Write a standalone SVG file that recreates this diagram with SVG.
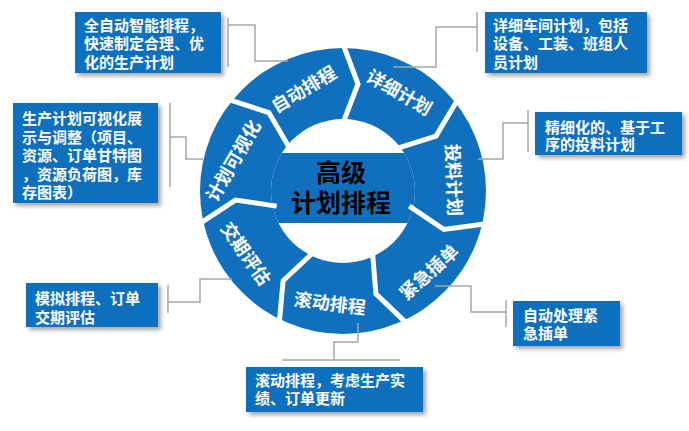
<svg xmlns="http://www.w3.org/2000/svg" width="689" height="431" viewBox="0 0 689 431">
<defs>
<style>
.box{fill:#1170BE;filter:url(#sh)}
.bt{font-family:"Noto Sans CJK SC","Noto Sans",sans-serif;font-weight:bold;font-size:15px;fill:#fff}
.seg{font-family:"Noto Sans CJK SC","Noto Sans",sans-serif;font-weight:bold;font-size:18px;fill:#fff;text-anchor:middle;dominant-baseline:central}
.ctr{font-family:"Noto Sans CJK SC","Noto Sans",sans-serif;font-weight:bold;font-size:25px;fill:#000;text-anchor:middle}
.sep{fill:none;stroke:#fff;stroke-width:5;stroke-linejoin:miter}
.con{fill:none;stroke:#A6A6A6;stroke-width:1.5}
</style>
<filter id="sh" x="-10%" y="-10%" width="130%" height="140%">
<feDropShadow dx="3" dy="3" stdDeviation="2" flood-color="#000" flood-opacity="0.35"/>
</filter>
<clipPath id="inner"><circle cx="343" cy="191" r="72"/></clipPath>
</defs>
<rect width="689" height="431" fill="#fff"/>
<g id="wheel">
<circle cx="343" cy="191" r="143" fill="#1170BE"/>
<circle cx="343" cy="191" r="72" fill="#fff"/>
<rect x="260" y="153" width="170" height="70" fill="#1170BE" clip-path="url(#inner)"/>
<polyline class="sep" points="343,44 358,84 343,123"/>
<polyline class="sep" points="457.9,99.3 436,136.1 396.2,148.6"/>
<polyline class="sep" points="486.3,223.7 443.9,229.5 409.3,206.1"/>
<polyline class="sep" points="406.8,323.4 375.9,293.9 372.5,252.3"/>
<polyline class="sep" points="279.2,323.4 283.1,280.8 313.5,252.3"/>
<polyline class="sep" points="199.7,223.7 235.4,200.1 276.7,206.1"/>
<polyline class="sep" points="228.1,99.3 268.8,112.6 289.8,148.6"/>
<text class="seg" transform="translate(303,88) rotate(-31)">自动排程</text>
<text class="seg" transform="translate(400,91) rotate(30)">详细计划</text>
<text class="seg" transform="translate(455,180) rotate(88)">投料计划</text>
<text class="seg" transform="translate(428,271) rotate(-42)">紧急插单</text>
<text class="seg" transform="translate(330,302) rotate(7)">滚动排程</text>
<text class="seg" transform="translate(247,253) rotate(55)">交期评估</text>
<text class="seg" transform="translate(232,160) rotate(-60)">计划可视化</text>
<text class="ctr"><tspan x="341" y="182">高级</tspan><tspan x="341" y="212">计划排程</tspan></text>
</g>
<g id="connectors">
<path class="con" d="M228,18V67M228,25H255V61H288"/>
<path class="con" d="M477,12V52M477,27H436V67H393"/>
<path class="con" d="M170,103V187M170,137H186V159H203"/>
<path class="con" d="M528,110V152M528,123H503V159H478"/>
<path class="con" d="M168,285V313M168,302H200V279H232"/>
<path class="con" d="M506,300V327M506,312H471V286H435"/>
<path class="con" d="M282,360H400M334,360V342H358V323"/>
</g>
<g id="box-auto">
<rect class="box" x="75" y="12" width="146" height="61"/>
<text class="bt"><tspan x="84" y="30.5">全自动智能排程，</tspan><tspan x="84" y="49">快速制定合理、优</tspan><tspan x="84" y="67.5">化的生产计划</tspan></text>
</g>
<g id="box-visual">
<rect class="box" x="13" y="103" width="145" height="100"/>
<text class="bt"><tspan x="22" y="124">生产计划可视化展</tspan><tspan x="22" y="142.5">示与调整（项目、</tspan><tspan x="22" y="161">资源、订单甘特图</tspan><tspan x="22" y="179.5">，资源负荷图，库</tspan><tspan x="22" y="198">存图表）</tspan></text>
</g>
<g id="box-detail">
<rect class="box" x="485" y="12" width="162" height="61"/>
<text class="bt"><tspan x="493" y="30.5">详细车间计划，包括</tspan><tspan x="493" y="49">设备、工装、班组人</tspan><tspan x="493" y="67.5">员计划</tspan></text>
</g>
<g id="box-feed">
<rect class="box" x="535" y="112" width="147" height="43"/>
<text class="bt"><tspan x="545" y="132.5">精细化的、基于工</tspan><tspan x="545" y="149.5">序的投料计划</tspan></text>
</g>
<g id="box-delivery">
<rect class="box" x="26" y="283" width="132" height="44"/>
<text class="bt"><tspan x="35" y="303.5">模拟排程、订单</tspan><tspan x="35" y="322.5">交期评估</tspan></text>
</g>
<g id="box-urgent">
<rect class="box" x="513" y="301" width="107" height="45"/>
<text class="bt"><tspan x="523" y="320.5">自动处理紧</tspan><tspan x="523" y="338.5">急插单</tspan></text>
</g>
<g id="box-rolling">
<rect class="box" x="246" y="367" width="177" height="45"/>
<text class="bt"><tspan x="255" y="385.5">滚动排程，考虑生产实</tspan><tspan x="255" y="403.5">绩、订单更新</tspan></text>
</g>
</svg>
